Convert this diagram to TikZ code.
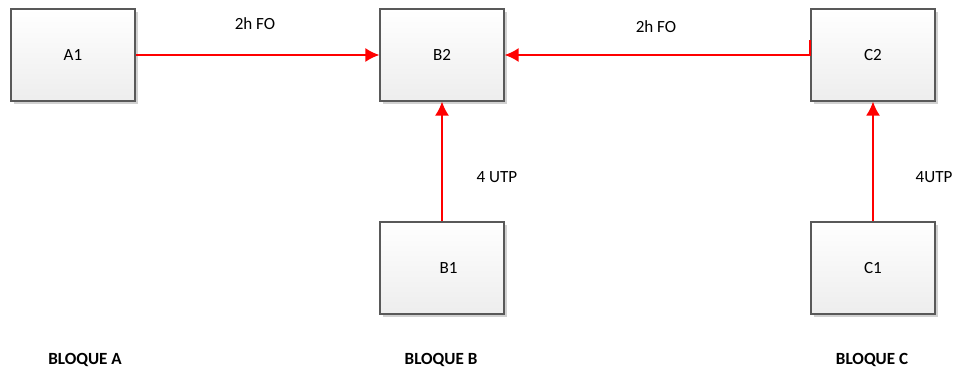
\documentclass[tikz,border=0pt]{standalone}
\usepackage{fontspec}
\setmainfont{Carlito}
\usetikzlibrary{arrows.meta, shadows, calc}

\tikzset{
  equipo/.style={draw=black!65, line width=0.8pt, top color=white, bottom color=black!7,
    minimum width=93pt, minimum height=69pt, inner sep=0pt,
    drop shadow={shadow xshift=2pt, shadow yshift=-2pt, fill=black!18, opacity=1},
    font=\fontsize{12.8}{14}\selectfont},
  enlace/.style={red, line width=1.5pt, -{Latex[length=10.5pt, width=10.5pt]}},
  etiqueta/.style={inner sep=0pt, font=\fontsize{12.8}{14}\selectfont},
  bloque/.style={inner sep=0pt, font=\fontsize{12.8}{14}\selectfont\bfseries}
}

\begin{document}
\begin{tikzpicture}[x=0.75pt, y=-0.75pt]
  \useasboundingbox (0,0) rectangle (956,374);

  \node [equipo] (A1) at (73,55) {A1};
  \node [equipo] (B2) at (442,55) {B2};
  \node [equipo] (C2) at (873,55) {C2};
  \node [equipo] (B1) at (442,268) {\hspace{10pt}B1};
  \node [equipo] (C1) at (873,268) {C1};

  \draw [enlace] (A1.east)--(B2.west);
  \draw [enlace] ([yshift=11pt]C2.west)--(C2.west)--(B2.east);
  \draw [enlace] (B1.north)--(B2.south);
  \draw [enlace] (C1.north)--(C2.south);

  \node [etiqueta] (fo1) at (255,24) {2h FO};
  \node [etiqueta] (fo2) at (656,27) {2h FO};
  \node [etiqueta] (utp1) at (497,177) {4 UTP};
  \node [etiqueta] (utp2) at (934,177) {4UTP};

  \node [bloque] (bqA) at (85,360) {BLOQUE A};
  \node [bloque] (bqB) at (441,360) {BLOQUE B};
  \node [bloque] (bqC) at (872,360) {BLOQUE C};
\end{tikzpicture}
\end{document}
